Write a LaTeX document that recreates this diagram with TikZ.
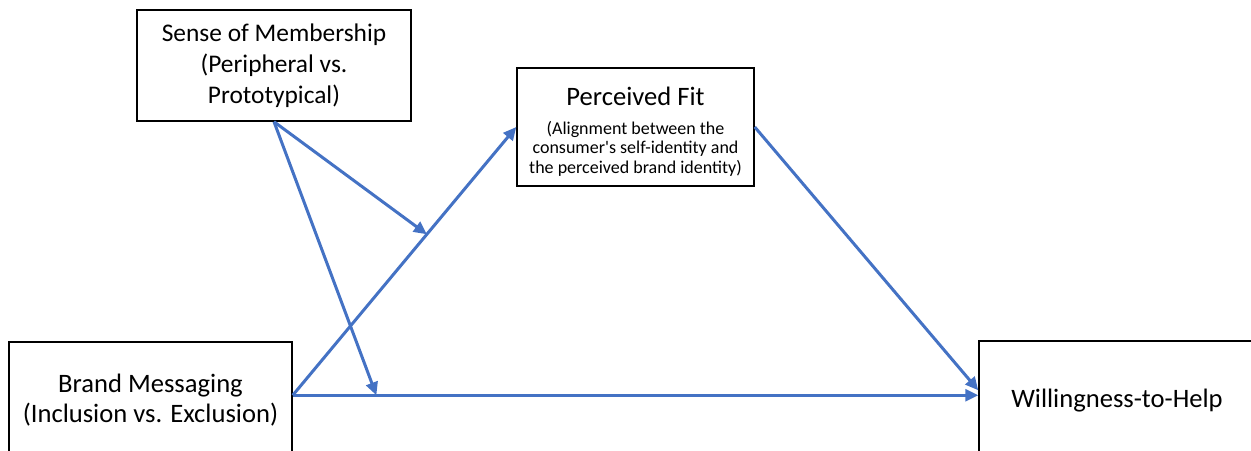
\documentclass[tikz,border=0pt]{standalone}
\usepackage{fontspec}
\setmainfont{Carlito}
\usetikzlibrary{arrows.meta,calc}
\definecolor{arrowblue}{HTML}{4472C4}
\begin{document}
\begin{tikzpicture}[x=0.5pt,y=-0.5pt,
  box/.style={draw=black,line width=0.75pt,fill=white,inner sep=0pt,align=center},
  bigtext/.style={font=\fontsize{12.7}{15.5}\selectfont},
  largetext/.style={font=\fontsize{13.3}{15}\selectfont},
  smalltext/.style={font=\fontsize{9}{9.75}\selectfont},
  link/.style={draw=arrowblue,line width=1.5pt,-{Triangle[length=6.5pt,width=6pt]}}]
\useasboundingbox (0,0) rectangle (1251,450);
\clip (0,0) rectangle (1251,450);
\node[box,bigtext,minimum width=137pt,minimum height=55.5pt] (sense) at (274,65.5)
  {Sense of Membership\\(Peripheral vs.\\Prototypical)};
\node[box,smalltext,minimum width=118.5pt,minimum height=59pt] (fit) at (635.5,127)
  {{\fontsize{13.3}{16}\selectfont\rule{0pt}{14pt}Perceived Fit}\\[4.5pt]
   (Alignment between the\\
   consumer\textquotesingle s self-identity and\\
   the perceived brand identity)};
\node[box,largetext,minimum width=141.5pt,minimum height=58pt] (brand) at (150.5,400)
  {Brand Messaging\\(Inclusion vs. Exclusion)};
\node[box,largetext,minimum width=138pt,minimum height=59.5pt] (will) at (1117,400.5)
  {Willingness-to-Help};
\coordinate (bmout) at ($(brand.north east)+(0,54)$);
\coordinate (wdiag) at ($(will.north west)+(0,50)$);
\coordinate (whor) at (bmout -| will.west);
\coordinate (m1) at ($(bmout)!0.6!(fit.west)$);
\coordinate (m2) at ($(bmout)!0.122!(whor)$);
\draw[link] (bmout) -- (fit.west);
\draw[link] (bmout) -- (whor);
\draw[link] (fit.east) -- (wdiag);
\draw[link] (sense.south) -- (m1);
\draw[link] (sense.south) -- (m2);
\end{tikzpicture}
\end{document}
